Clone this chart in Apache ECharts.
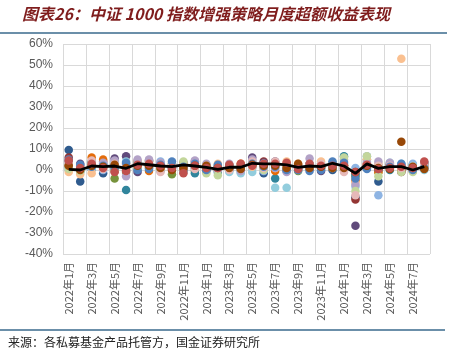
<!DOCTYPE html>
<html><head><meta charset="utf-8">
<script src="https://cdn.jsdelivr.net/npm/echarts@6/dist/echarts.min.js"></script>
<style>html,body{margin:0;padding:0;background:#fff}#c{width:457px;height:362px}</style>
</head><body><div id="c"></div>
<script>
const months = ["2022年1月","2022年2月","2022年3月","2022年4月","2022年5月","2022年6月","2022年7月","2022年8月","2022年9月","2022年10月","2022年11月","2022年12月",
"2023年1月","2023年2月","2023年3月","2023年4月","2023年5月","2023年6月","2023年7月","2023年8月","2023年9月","2023年10月","2023年11月","2023年12月",
"2024年1月","2024年2月","2024年3月","2024年4月","2024年5月","2024年6月","2024年7月","2024年8月"];
const yTicks = [-40,-30,-20,-10,0,10,20,30,40,50,60];
const fundA = [9.5,-5.5,1,-1.5,2,0,2.5,1.5,0,1,-0.5,1,0.5,1,0,1.5,2,-1.5,3,-0.5,1,2.5,1,0,0,-13,1.5,-5.5,1,-0.5,1,3.5];
const fundB = [6,0.5,2,4,-0.5,1.5,3,2,1,1.5,0,2,1.5,0.5,1,2.5,2,4,2.5,3,1,3,2,3,2,-14,3,1,2.5,-1,-0.5,1.5];
const fundC = [2.5,0,3.5,1.5,-4,-1,1,4,2.5,-2,1,-0.5,0.5,1.5,2,0,1.5,1,2,0.5,-0.5,2,1,2.5,2,-3,5,-1,2,1.5,1,3];
const fundD = [4,3,0.5,3,5.5,6.5,-1,4.5,3,1.5,3.5,4,-0.5,1.5,0.5,1,6,3.5,4,1.5,1,0.5,-0.5,2,1,-26.5,2,0,3,1,2,2];
const fundE = [1.5,-1,4,2.5,3,-9.5,3,1,2,3,1.5,-1.5,2,-1,1,2,4,2,-4,1,2,1,3,3.5,6.5,-2,1,2,0,2,2.5,2.5];
const fundF = [2,1.5,6,5,1,3,4,-0.5,1.5,2,2.5,3,1,0,2.5,3,2.5,1.5,-0.5,2,2.5,1.5,1.5,1,2,-5,3,-1,2,0,0.5,1];
const fundG = [0,1.5,1,0,2,2.5,1.5,3,4,0.5,2,1,2.5,0,1,-1,1,-0.5,1.5,2.5,0,2,1,1.5,3,1,6.5,-12,1.5,2.5,3,1];
const fundH = [1,0.5,0.5,2,4,4,3.5,2,-0.5,1,-1,2.5,1,2,-1,-1.5,-1,3,-8.5,-8.5,2,3,2,1,1,-8,4,1.5,3.5,3,2,0];
const fundI = [-1,-2,-1.5,1,1.5,1,2,4.5,1,2.5,3,3.5,1,3,1.5,1.5,1.5,2.5,1,4,3,2,4,2,4,-6,5,3,1,53,1,2];
const fundJ = [3,2,3,3.5,4.5,-3,5,5,3.5,1,2,4.5,3,0,3,-0.5,5,2,1,-1,2,5.5,1,2,5,-7,3.5,4,3.5,2,0.5,3.5];
const fundK = [0.5,-0.5,2.5,1,0,0,1,1.5,0.5,3,4,1.5,-1.5,-2.5,2,2,3,0,3,2,1,1.5,2.5,3,6,-10,6.5,-3,1,-1,-1,1.5];
const fundL = [3.5,1,4.5,0.5,3,2,2,1,-1,2,1,0.5,2,1,0,2.5,4,1,4,1,1.5,1,3,3,-1,-12,2,2,2,1,1.5,2.5];
const fundM = [5,2.5,1.5,2,1,3.5,0,0.5,2.5,4,1.5,3,0,2.5,2,1,3,1.5,1.5,0,0,-0.5,0,4,3.5,-4,0.5,0.5,1.5,3,0,1];
const fundN = [2,0,2,1.5,2.5,1,2,2,1,0,1,2,2,1,1,0.5,2.5,2,2,1,3,1,1.5,1,1,-1,2,1,0.5,13.5,1.5,0.5];
const fundO = [4.5,1,3,1,-1,-0.5,2.5,3,2,1,-1.5,2,1,1,2.5,3,2,3,3,3.5,0.5,3,2,2,2,-1,2.5,0.5,1,1.5,1,4];
const medianLine = [0.3,0,1.9,1.6,1.9,0.8,3,2.5,1.9,1.6,2.4,1.9,1.3,0.3,1.3,1.3,3.2,2.9,2.9,2.4,1.3,1.9,1.6,3.2,1.9,-1.6,2.9,0.8,1.6,1.6,0,1.6];

const funds = [fundA,fundB,fundC,fundD,fundE,fundF,fundG,fundH,fundI,fundJ,fundK,fundL,fundM,fundN,fundO];
const colors = ['#2F5B8E','#943634','#77933C','#604A7B','#31859C','#E46C0A','#8EB4E3','#93CDDD','#FAC090','#B3A2C7','#C3D69B','#E6B9B8','#4F81BD','#984807','#C0504D'];

const series = funds.map((d,i)=>({
  type:'scatter', data:d, symbolSize:8.5,
  itemStyle:{color:colors[i], opacity:1}, z:2
}));
series.push({type:'line', data:medianLine, showSymbol:false, symbol:'none',
  lineStyle:{color:'#000', width:2.8}, z:5, silent:true});

const chart = echarts.init(document.getElementById('c'), null, {renderer:'canvas'});
chart.setOption({
  animation:false,
  backgroundColor:'#fff',
  grid:{left:63, right:27, top:44, bottom:108, containLabel:false},
  xAxis:{type:'category', data:months, boundaryGap:true,
    axisLine:{show:true, lineStyle:{color:'#D9D9D9'}},
    axisTick:{show:false},
    axisLabel:{interval:1, rotate:90, color:'#595959', fontSize:11, margin:8,
      fontFamily:'"Noto Sans CJK SC", sans-serif'},
    splitLine:{show:true, interval:1, lineStyle:{color:'#D9D9D9', width:1}}},
  yAxis:{type:'value', min:-40, max:60, interval:10,
    axisLine:{show:false}, axisTick:{show:false},
    axisLabel:{color:'#595959', fontSize:12, margin:10, fontFamily:'"Liberation Sans", Arial, sans-serif',
      formatter:v=> yTicks.includes(v) ? v+'%' : ''},
    splitLine:{show:true, lineStyle:{color:'#D9D9D9', width:1}}},
  graphic:[
    {type:'text', left:22, top:6, style:{text:'图表26：中证 1000 指数增强策略月度超额收益表现',
      fill:'#7F1D1D', font:'italic bold 16px "Noto Sans CJK SC", sans-serif'}},
    {type:'line', shape:{x1:0,y1:33,x2:447,y2:33}, style:{stroke:'#3A6A8C', lineWidth:1.5}},
    {type:'line', shape:{x1:0,y1:330,x2:445,y2:330}, style:{stroke:'#3A6A8C', lineWidth:1.5}},
    {type:'text', left:8, top:336, style:{text:'来源：各私募基金产品托管方，国金证券研究所',
      fill:'#222', font:'12px "Noto Sans CJK SC", sans-serif'}}
  ],
  series:series
});
</script></body></html>
